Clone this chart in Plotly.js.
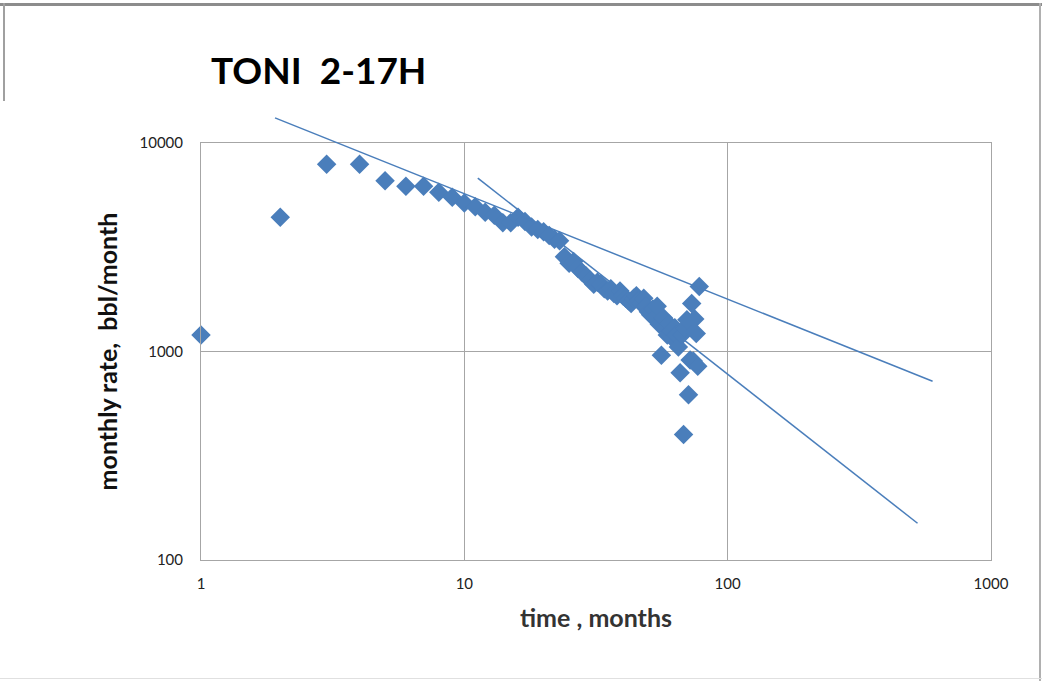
<!DOCTYPE html>
<html>
<head>
<meta charset="utf-8">
<script src="https://cdn.plot.ly/plotly-3.0.1.min.js"></script>
<style>
html,body{margin:0;padding:0;background:#fff;}
#wrap{position:relative;width:1042px;height:681px;overflow:hidden;}
#chart{width:1042px;height:681px;}
.b{position:absolute;background:#8c8c8c;}
</style>
</head>
<body>
<div id="wrap">
<div id="chart"></div>
<div class="b" style="left:0;top:3px;width:1042px;height:3px;"></div>
<div class="b" style="left:3px;top:3px;width:2px;height:98px;background:#a0a0a0;"></div>
<div class="b" style="left:1039px;top:3px;width:2px;height:678px;background:#b0b0b0;"></div>
<div class="b" style="left:0;top:678px;width:1042px;height:1px;background:#e0e0e0;"></div>
</div>
<script>
// production data: month number and monthly rate (bbl/month)
const months = [1,2,3,4,5,6,7,8,9,10,11,12,13,14,15,16,17,18,19,20,
  21,22,23,24,25,26,27,28,29,30,31,32,33,34,35,36,37,38,39,40,
  41,42,43,44,45,46,47,48,49,50,51,52,53,54,55,56,57,58,59,60,
  61,62,63,64,65,66,67,68,69,70,71,72,73,74,75,76,77,78];
const rates = [1200,4400,7900,7900,6600,6200,6200,5800,5500,5150,
  4950,4650,4500,4150,4150,4400,4200,3950,3850,3750,
  3600,3450,3400,2850,2650,2700,2500,2400,2300,2200,
  2100,2150,2100,2000,1950,2000,1900,1850,1950,1850,
  1800,1750,1700,1800,1850,1750,1700,1800,1650,1550,
  1500,1600,1450,1650,1350,960,1450,1300,1200,1350,
  1250,1150,1300,1200,1050,790,1200,400,1300,1420,
  620,910,1700,900,1430,1220,850,2050];
// trend line end points (t^-0.5 and t^-1 fits)
const trendA_t = [1.91, 600];
const trendA_q = [13200, 720];
const trendB_t = [11.25, 526];
const trendB_q = [6790, 150];
const xTicks = [1,10,100,1000];
const yTicks = [100,1000,10000];

const W = 1042, H = 681;
const L = 201, R = 991, T = 143, B = 560, TOPX = 100;
const blue = '#4a7ebb';
const traces = [
  {x: trendA_t, y: trendA_q, xaxis:'x2', yaxis:'y2', mode:'lines', line:{color:blue, width:1.5}, hoverinfo:'skip'},
  {x: trendB_t, y: trendB_q, mode:'lines', line:{color:blue, width:1.5}, hoverinfo:'skip'},
  {x: months, y: rates, mode:'markers', cliponaxis:false,
   marker:{symbol:'diamond', size:15, color:blue, line:{width:0}}}
];
const decPx = (B - T) / 2;
const layout = {
  width:W, height:H,
  margin:{l:0, r:0, t:0, b:0},
  paper_bgcolor:'#fff', plot_bgcolor:'rgba(0,0,0,0)',
  showlegend:false,
  font:{family:'Lato, Liberation Sans, sans-serif', color:'#222'},
  title:{text:'<b>TONI  2-17H</b>', x:(L+10)/W, xref:'paper', xanchor:'left', y:1-58/H, yref:'container', yanchor:'top',
    font:{family:'Lato, sans-serif', size:37, color:'#000'}},
  xaxis:{type:'log', range:[0,3], domain:[L/W, R/W], anchor:'y',
    tickvals:xTicks, ticktext:xTicks.map(String),
    showgrid:true, gridcolor:'#a6a6a6', gridwidth:1, showline:true, linecolor:'#a6a6a6', mirror:true,
    ticks:'', tickfont:{size:15, color:'#222'}, ticklabelstandoff:10, zeroline:false,
    title:{text:'<b>time , months</b>', font:{size:25, color:'#333'}, standoff:18}},
  yaxis:{type:'log', range:[2,4], domain:[(H-B)/H, (H-T)/H], anchor:'x',
    tickvals:yTicks, ticktext:yTicks.map(String),
    showgrid:true, gridcolor:'#a6a6a6', gridwidth:1, showline:true, linecolor:'#a6a6a6', mirror:true,
    ticks:'', tickfont:{size:15, color:'#222'}, ticklabelstandoff:14, zeroline:false,
    title:{text:'<b>monthly rate,  bbl/month</b>', font:{size:25, color:'#111'}, standoff:14}},
  xaxis2:{type:'log', range:[0,3], domain:[L/W, R/W], anchor:'y2', visible:false, overlaying:'x'},
  yaxis2:{type:'log', range:[2, 2 + (B - TOPX)/decPx], domain:[(H-B)/H, (H-TOPX)/H], anchor:'x2', visible:false}
};
Plotly.newPlot('chart', traces, layout, {staticPlot:true, displayModeBar:false});
</script>
</body>
</html>
